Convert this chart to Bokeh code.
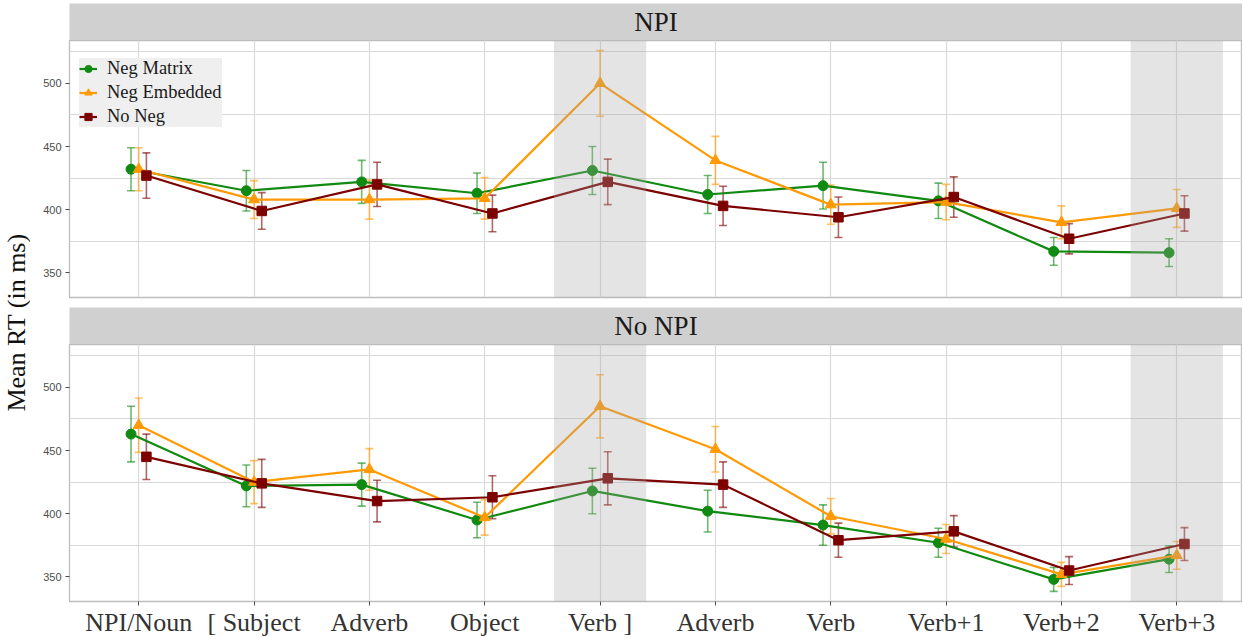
import math
from bokeh.plotting import figure
from bokeh.layouts import column, row
from bokeh.models import (ColumnDataSource, Whisker, TeeHead, FixedTicker, Legend,
                          LegendItem, BoxAnnotation, Range1d)
from bokeh.core.properties import value
from bokeh.embed import file_html
from bokeh.resources import INLINE

# ---------------- data ----------------
categories = ["NPI/Noun", "[ Subject", "Adverb", "Object", "Verb ]",
              "Adverb", "Verb", "Verb+1", "Verb+2", "Verb+3"]
shaded = [5, 10]  # 1-based positions of highlighted regions ("Verb ]", "Verb+3")

series = ["Neg Matrix", "Neg Embedded", "No Neg"]
colors = ["#118A11", "#FF9A05", "#7D0000"]
markers = ["circle", "triangle", "square"]
marker_sizes = [10, 11, 9.5]

# Panel "NPI"
npi_matrix = [432, 415, 422, 413, 431, 412, 419, 407, 367, 366]
npi_matrix_se = [17, 16, 17, 16, 19, 15, 18.5, 14, 11, 11]
npi_embedded = [432, 408, 408, 409, 500, 439, 404, 406, 390, 401]
npi_embedded_se = [17, 15, 15.5, 16.5, 26, 19, 15.5, 14, 13, 15]
npi_noneg = [427, 399, 420, 397, 422, 403, 394, 410, 377, 397]
npi_noneg_se = [18, 14.5, 17.5, 14.5, 18, 15.5, 16, 16, 12, 14]

# Panel "No NPI"
nonpi_matrix = [463, 422, 423, 395, 418, 402, 391, 377, 348, 364]
nonpi_matrix_se = [22, 16.5, 17, 14, 18, 16.5, 16, 11.5, 9.5, 10.5]
nonpi_embedded = [470, 425, 435, 397, 485, 451, 398, 380, 352, 367]
nonpi_embedded_se = [21.5, 17, 16.5, 14, 25, 18, 14, 11.5, 9.5, 11]
nonpi_noneg = [445, 424, 410, 413, 428, 423, 379, 386, 355, 376]
nonpi_noneg_se = [18, 19, 16.5, 17, 21, 18, 13.5, 12.5, 11, 13]

y_ticks = [350, 400, 450, 500]
y_minor_grid = [375, 425, 475, 525]
y_lo, y_hi = 330.5, 533.9

panels = [
    ("NPI", [npi_matrix, npi_embedded, npi_noneg],
     [npi_matrix_se, npi_embedded_se, npi_noneg_se]),
    ("No NPI", [nonpi_matrix, nonpi_embedded, nonpi_noneg],
     [nonpi_matrix_se, nonpi_embedded_se, nonpi_noneg_se]),
]

# ---------------- layout constants ----------------
SERIF = "Liberation Serif"
SANS = "Liberation Sans"
YLAB_W = 30
LEFT = 39
FRAME_W = 1173
FRAME_H = 257
STRIP_H = 37
TOP_PAD = 3
GAP = 10
dodge = [-0.0667, 0.0, 0.0667]
x_lo, x_hi = 0.4, 10.57


def make_strip(label, top_pad):
    s = figure(frame_width=FRAME_W, frame_height=STRIP_H, x_range=(0, 1), y_range=(0, 1),
               x_axis_location=None, y_axis_location=None, toolbar_location=None,
               output_backend="svg", min_border=0, min_border_left=LEFT,
               min_border_top=top_pad,
               background_fill_color="#D0D0D0", outline_line_color=None)
    s.grid.visible = False
    s.text(x=[0.5], y=[0.5], text=[label], text_align="center", text_baseline="middle",
           text_font=value(SERIF), text_font_size="27px", text_color="#1A1A1A")
    return s


def make_panel(means_list, se_list, show_xaxis, show_legend):
    p = figure(frame_width=FRAME_W, frame_height=FRAME_H,
               x_range=Range1d(x_lo, x_hi), y_range=Range1d(y_lo, y_hi),
               x_axis_location="below" if show_xaxis else None,
               toolbar_location=None, output_backend="svg",
               min_border=0, min_border_left=LEFT,
               min_border_bottom=0 if show_xaxis else GAP,
               background_fill_color="white", border_fill_color="white",
               outline_line_color="#BDBDBD", outline_line_width=1.3)
    # grids
    p.xgrid.ticker = FixedTicker(ticks=list(range(1, len(categories) + 1)))
    p.ygrid.ticker = FixedTicker(ticks=y_minor_grid)
    p.xgrid.grid_line_color = "#D9D9D9"
    p.ygrid.grid_line_color = "#D9D9D9"
    p.xgrid.grid_line_width = 1.2
    p.ygrid.grid_line_width = 1.2
    # y axis
    p.yaxis.ticker = FixedTicker(ticks=y_ticks)
    p.yaxis.axis_line_color = None
    p.yaxis.major_tick_line_color = "#4D4D4D"
    p.yaxis.major_tick_out = 4
    p.yaxis.major_tick_in = 0
    p.yaxis.minor_tick_line_color = None
    p.yaxis.major_label_text_font = SANS
    p.yaxis.major_label_text_font_size = "11px"
    p.yaxis.major_label_text_color = "#4D4D4D"
    p.yaxis.major_label_standoff = 4
    if show_xaxis:
        p.xaxis.ticker = FixedTicker(ticks=list(range(1, len(categories) + 1)))
        p.xaxis.major_label_overrides = {i + 1: c for i, c in enumerate(categories)}
        p.xaxis.axis_line_color = None
        p.xaxis.major_tick_line_color = "#4D4D4D"
        p.xaxis.major_tick_out = 4
        p.xaxis.major_tick_in = 0
        p.xaxis.minor_tick_line_color = None
        p.xaxis.major_label_text_font = SERIF
        p.xaxis.major_label_text_font_size = "26px"
        p.xaxis.major_label_text_color = "#333333"
        p.xaxis.major_label_standoff = 2

    items = []
    for k, name in enumerate(series):
        xs = [i + 1 + dodge[k] for i in range(len(categories))]
        m = means_list[k]
        se = se_list[k]
        src = ColumnDataSource(dict(x=xs, y=m,
                                    upper=[a + b for a, b in zip(m, se)],
                                    lower=[a - b for a, b in zip(m, se)]))
        w = Whisker(base="x", upper="upper", lower="lower", source=src, dimension="height",
                    line_color=colors[k], line_alpha=0.6, line_width=1.6,
                    upper_head=TeeHead(size=8, line_color=colors[k], line_alpha=0.6, line_width=1.6),
                    lower_head=TeeHead(size=8, line_color=colors[k], line_alpha=0.6, line_width=1.6))
        p.add_layout(w)
        lr = p.line("x", "y", source=src, line_color=colors[k], line_width=2.2)
        sr = p.scatter("x", "y", source=src, marker=markers[k], size=marker_sizes[k],
                       fill_color=colors[k], line_color=colors[k])
        items.append(LegendItem(label=name, renderers=[lr, sr]))

    for pos in shaded:
        p.add_layout(BoxAnnotation(left=pos - 0.4, right=pos + 0.4,
                                   fill_color="#A6A6A6", fill_alpha=0.3, line_color=None))

    if show_legend:
        leg_h = 68
        leg = Legend(items=items, location=(10, FRAME_H - 19 - leg_h),
                     background_fill_color="#EFEFEF", background_fill_alpha=1.0,
                     border_line_color=None, padding=4, spacing=3,
                     label_height=21, glyph_height=21, glyph_width=18, label_standoff=10,
                     label_text_font=SERIF, label_text_font_size="18.5px",
                     label_text_color="#1A1A1A")
        p.add_layout(leg)
    return p


strip1 = make_strip(panels[0][0], TOP_PAD)
panel1 = make_panel(panels[0][1], panels[0][2], show_xaxis=False, show_legend=True)
strip2 = make_strip(panels[1][0], 0)
panel2 = make_panel(panels[1][1], panels[1][2], show_xaxis=True, show_legend=False)

TOTAL_H = 636
ylab = figure(width=YLAB_W, height=TOTAL_H, x_range=(0, YLAB_W), y_range=(0, TOTAL_H),
              x_axis_location=None, y_axis_location=None, toolbar_location=None,
              output_backend="svg", min_border=0, outline_line_color=None)
ylab.grid.visible = False
ylab.text(x=[16], y=[TOTAL_H - 322], text=["Mean RT (in ms)"], angle=math.pi / 2,
          text_align="center", text_baseline="middle", text_font=value(SERIF),
          text_font_size="26px", text_color="#111111")

layout = row(ylab, column(strip1, panel1, strip2, panel2, spacing=0), spacing=0)

open("out.html", "w").write(file_html(layout, INLINE))
